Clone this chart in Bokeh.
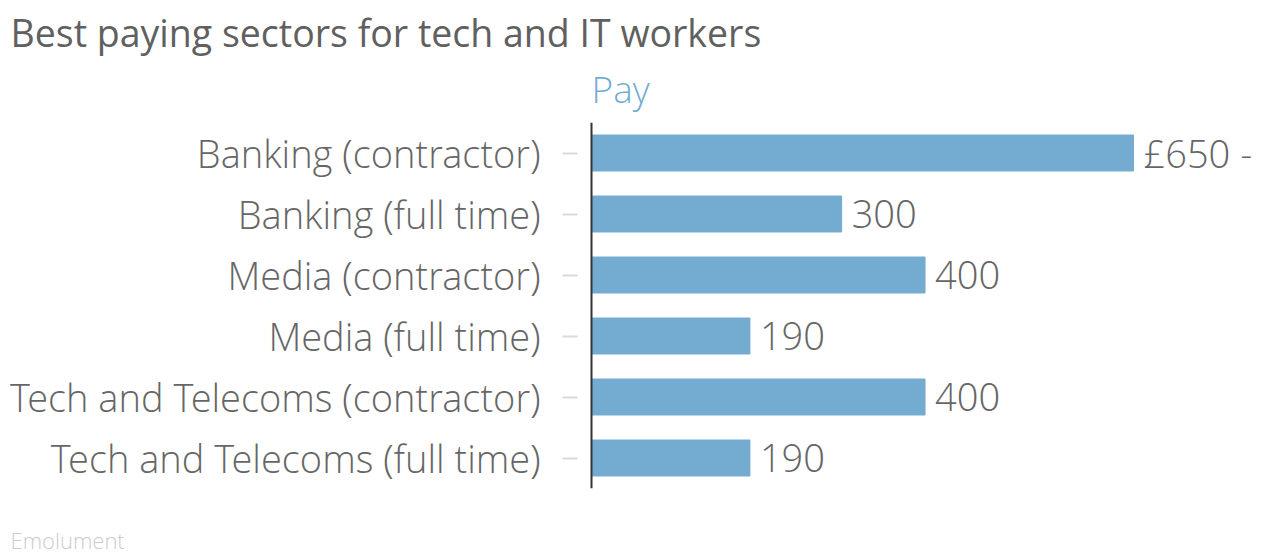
from bokeh.plotting import figure
from bokeh.models import ColumnDataSource, Span, Range1d, FactorRange, Title
from bokeh.core.properties import value
from bokeh.embed import file_html
from bokeh.resources import INLINE

sectors = ["Banking (contractor)", "Banking (full time)", "Media (contractor)",
           "Media (full time)", "Tech and Telecoms (contractor)", "Tech and Telecoms (full time)"]
pay = [650, 300, 400, 190, 400, 190]
pay_labels = ["£650 -", "300", "400", "190", "400", "190"]

FONT = "Open Sans Light"
BAR = "#74acd1"

src = ColumnDataSource(dict(sector=sectors, pay=pay, lbl=pay_labels))

px_per_unit = 542 / 650
p = figure(width=1264, height=554, output_backend="svg", toolbar_location=None,
           y_range=FactorRange(factors=list(reversed(sectors)), range_padding=0),
           x_range=Range1d(-14 / px_per_unit, 673 / px_per_unit),
           min_border_left=577, min_border_right=0, min_border_top=122, min_border_bottom=0)
p.outline_line_color = None
p.background_fill_color = "white"
p.border_fill_color = "white"
p.grid.visible = False
p.xaxis.visible = False

p.hbar(y="sector", right="pay", left=0, height=0.59, source=src, color=BAR)
p.text(x="pay", y="sector", text="lbl", source=src, x_offset=10, text_baseline="middle",
       text_align="left", text_font=value(FONT), text_font_size="38px", text_color="#666666")

ax = p.yaxis[0]
ax.axis_line_color = None
ax.major_tick_out = 15
ax.major_tick_in = 0
ax.minor_tick_out = 0
ax.minor_tick_in = 0
ax.major_tick_line_color = "#d9d9d9"
ax.major_tick_line_width = 2
ax.major_label_standoff = 22
ax.major_label_text_font = FONT
ax.major_label_text_font_size = "38px"
ax.major_label_text_color = "#666666"

p.add_layout(Span(location=0, dimension="height", line_color="#333333", line_width=2))

p.add_layout(Title(text="Pay", align="left", offset=14, standoff=18,
                   text_font=FONT, text_font_size="37px", text_color=BAR, text_font_style="normal"), "above")
p.add_layout(Title(text="Best paying sectors for tech and IT workers", align="left", offset=-567, standoff=-12,
                   text_font="Open Sans", text_font_size="37.5px", text_color="#606060", text_font_style="normal"), "above")
p.add_layout(Title(text=" ", align="left", standoff=31, text_font_size="1px"), "below")
p.add_layout(Title(text="Emolument", align="left", offset=-567, standoff=0, vertical_align="bottom",
                   text_font=FONT, text_font_size="22px", text_color="#cccccc", text_font_style="normal"), "below")

open("out.html", "w").write(file_html(p, INLINE))
